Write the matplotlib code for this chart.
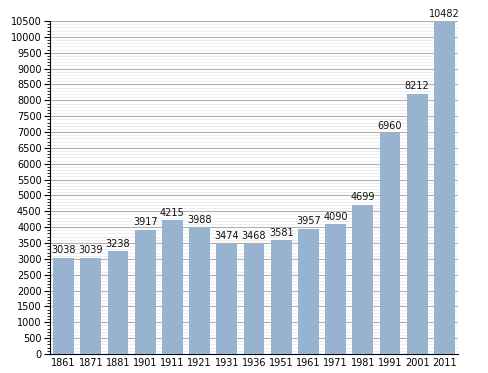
import numpy as np
import matplotlib.pyplot as plt
from matplotlib.ticker import MultipleLocator

years = ["1861", "1871", "1881", "1901", "1911", "1921", "1931", "1936",
         "1951", "1961", "1971", "1981", "1991", "2001", "2011"]
population = [3038, 3039, 3238, 3917, 4215, 3988, 3474, 3468,
              3581, 3957, 4090, 4699, 6960, 8212, 10482]

fig = plt.figure(figsize=(4.88, 3.73), dpi=100)
ax = fig.add_axes([0.1025, 0.051, 0.836, 0.8925])

x = np.arange(len(years))
ax.bar(x, population, width=0.76, color="#98b3cf", zorder=3)

for xi, v in zip(x, population):
    ax.text(xi, v + 80, str(v), ha="center", va="bottom", fontsize=7, color="#111111")

ax.set_xlim(-0.5, len(years) - 0.5)
ax.set_ylim(0, 10500)
ax.yaxis.set_major_locator(MultipleLocator(500))
ax.yaxis.set_minor_locator(MultipleLocator(100))
ax.grid(which="major", axis="y", color="#b0b0b0", lw=0.8, zorder=0)
ax.grid(which="minor", axis="y", color="#ebebeb", lw=0.6, zorder=0)

ax.set_xticks(x)
ax.set_xticklabels(years)
ax.tick_params(axis="x", length=0, labelsize=7, pad=3)
ax.tick_params(axis="y", which="major", length=4, labelsize=7, pad=2)
ax.tick_params(axis="y", which="minor", length=2.5)

for s in ["top", "right"]:
    ax.spines[s].set_visible(False)
ax.spines["left"].set_linewidth(0.8)
ax.spines["bottom"].set_linewidth(0.8)

fig.savefig("out.png", dpi=100)
